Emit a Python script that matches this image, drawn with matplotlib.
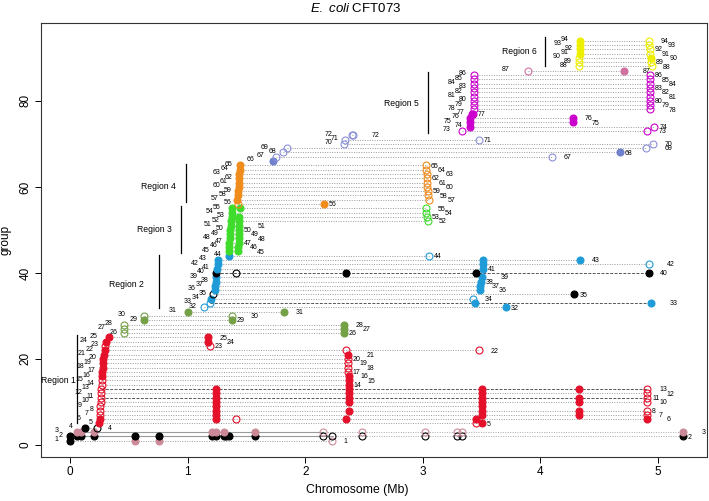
import matplotlib
matplotlib.use('Agg')
import matplotlib.pyplot as plt

plt.rcParams['font.family'] = ['Liberation Sans', 'DejaVu Sans']
plt.rcParams['mathtext.fontset'] = 'custom'
plt.rcParams['mathtext.rm'] = 'Liberation Sans'
plt.rcParams['mathtext.it'] = 'Liberation Sans:italic'

# ---------------- data ----------------
COLOURS = {
    'black': '#000000', 'pink': '#cc8a98', 'red': '#e5102a', 'olive': '#74a046',
    'blue': '#1f9bd7', 'lime': '#3fdc2c', 'orange': '#f08c1c', 'peri': '#8a90d6',
    'peri_dk': '#6f80cc', 'mag': '#cc00cc', 'rose': '#d070a0', 'yellow': '#eeee00',
}

# (group, position in Mb, colour, filled)
base_points = [
    (1, 0.00, 'black', 1), (1, 0.55, 'pink', 1), (1, 0.755, 'pink', 1), (1, 2.23, 'pink', 0),
    (2, 0.00, 'black', 1), (2, 0.061, 'black', 1), (2, 0.089, 'black', 1), (2, 0.20, 'black', 1),
    (2, 0.55, 'black', 1), (2, 0.755, 'black', 1), (2, 1.21, 'black', 1), (2, 1.24, 'black', 1),
    (2, 1.31, 'black', 1), (2, 1.33, 'black', 1), (2, 1.355, 'black', 1), (2, 1.575, 'black', 1),
    (2, 2.15, 'black', 0), (2, 2.23, 'black', 0), (2, 2.48, 'black', 0), (2, 3.02, 'black', 0),
    (2, 3.29, 'black', 0), (2, 3.33, 'black', 0), (2, 5.21, 'black', 1),
    (3, 0.061, 'pink', 1), (3, 0.089, 'pink', 1), (3, 0.20, 'pink', 1), (3, 1.21, 'pink', 1),
    (3, 1.24, 'pink', 1), (3, 1.31, 'pink', 1), (3, 1.575, 'pink', 1), (3, 2.15, 'pink', 0),
    (3, 2.48, 'pink', 0), (3, 3.02, 'pink', 0), (3, 3.29, 'pink', 0), (3, 3.33, 'pink', 0),
    (3, 5.21, 'pink', 1),
    (4, 0.123, 'black', 1), (4, 0.225, 'black', 0),
]

region1_points = [
    (5, 0.250, 'red', 1), (5, 3.45, 'red', 0), (5, 3.50, 'red', 1),
    (6, 0.252, 'red', 1), (6, 1.24, 'red', 1), (6, 1.41, 'red', 0), (6, 2.35, 'red', 1),
    (6, 3.45, 'red', 1), (6, 4.91, 'red', 1),
    (7, 0.255, 'red', 0), (7, 1.24, 'red', 1), (7, 3.50, 'red', 1), (7, 4.33, 'red', 1), (7, 4.91, 'red', 0),
    (8, 0.256, 'red', 0), (8, 1.24, 'red', 1), (8, 2.37, 'red', 1), (8, 3.50, 'red', 1),
    (8, 4.33, 'red', 1), (8, 4.91, 'red', 0),
    (9, 0.258, 'red', 0), (9, 1.24, 'red', 1), (9, 3.50, 'red', 1),
    (10, 0.260, 'red', 0), (10, 1.24, 'red', 1), (10, 2.37, 'red', 1), (10, 3.50, 'red', 1),
    (10, 4.33, 'red', 1), (10, 4.91, 'red', 0),
    (11, 0.262, 'red', 0), (11, 1.24, 'red', 1), (11, 2.37, 'red', 1), (11, 3.50, 'red', 1),
    (11, 4.33, 'red', 1), (11, 4.91, 'red', 0),
    (12, 0.264, 'red', 0), (12, 1.24, 'red', 1), (12, 2.37, 'red', 1), (12, 3.50, 'red', 1),
    (12, 4.91, 'red', 0),
    (13, 0.266, 'red', 0), (13, 1.24, 'red', 1), (13, 2.37, 'red', 1), (13, 3.50, 'red', 1),
    (13, 4.33, 'red', 1), (13, 4.91, 'red', 0),
    (14, 0.268, 'red', 0), (14, 2.37, 'red', 1),
    (15, 0.270, 'red', 0), (15, 2.37, 'red', 1),
    (16, 0.273, 'red', 1), (16, 2.37, 'red', 1),
    (17, 0.276, 'red', 1), (17, 2.365, 'red', 0),
    (18, 0.278, 'red', 1), (18, 2.365, 'red', 0),
    (19, 0.280, 'red', 1), (19, 2.36, 'red', 0),
    (20, 0.283, 'red', 1), (20, 2.36, 'red', 0),
    (21, 0.287, 'red', 1), (21, 2.36, 'red', 1),
    (22, 0.295, 'red', 1), (22, 2.35, 'red', 0), (22, 3.48, 'red', 0),
    (23, 0.300, 'red', 0), (23, 1.19, 'red', 0),
    (24, 0.310, 'red', 1), (24, 1.17, 'red', 1),
    (25, 0.330, 'red', 1), (25, 1.17, 'red', 1),
]

olive_points = [
    (26, 0.463, 'olive', 0), (26, 2.33, 'olive', 1),
    (27, 0.463, 'olive', 0), (27, 2.33, 'olive', 1),
    (28, 0.463, 'olive', 0), (28, 2.33, 'olive', 1),
    (29, 0.63, 'olive', 1), (29, 1.38, 'olive', 1),
    (30, 0.63, 'olive', 0), (30, 1.38, 'olive', 0),
    (31, 1.00, 'olive', 1), (31, 1.82, 'olive', 1),
]

region2_points = [
    (32, 1.14, 'blue', 0), (32, 3.71, 'blue', 1),
    (33, 1.19, 'blue', 0), (33, 3.44, 'blue', 1), (33, 4.94, 'blue', 1),
    (34, 1.20, 'blue', 1), (34, 3.43, 'blue', 0),
    (35, 1.22, 'black', 0), (35, 4.29, 'black', 1),
    (36, 1.230, 'blue', 1), (36, 3.49, 'blue', 1),
    (37, 1.235, 'blue', 1), (37, 3.49, 'blue', 1),
    (38, 1.240, 'blue', 1), (38, 3.495, 'blue', 1),
    (39, 1.245, 'blue', 1), (39, 3.50, 'blue', 1),
    (40, 1.24, 'black', 1), (40, 1.41, 'black', 0), (40, 2.35, 'black', 1),
    (40, 3.45, 'black', 1), (40, 4.92, 'black', 1),
    (41, 1.250, 'blue', 1), (41, 3.51, 'blue', 1),
    (42, 1.255, 'blue', 1), (42, 3.51, 'blue', 1), (42, 4.92, 'blue', 0),
    (43, 1.260, 'blue', 1), (43, 3.51, 'blue', 1), (43, 4.34, 'blue', 1),
    (44, 1.35, 'blue', 1), (44, 3.05, 'blue', 0),
]

region3_points = [
    (45, 1.350, 'lime', 1), (45, 1.430, 'lime', 1),
    (46, 1.352, 'lime', 1), (46, 1.432, 'lime', 1),
    (47, 1.355, 'lime', 1), (47, 1.434, 'lime', 1),
    (48, 1.358, 'lime', 1), (48, 1.435, 'lime', 1),
    (49, 1.360, 'lime', 1), (49, 1.436, 'lime', 1),
    (50, 1.363, 'lime', 1), (50, 1.437, 'lime', 1),
    (51, 1.366, 'lime', 1), (51, 1.438, 'lime', 1),
    (52, 1.370, 'lime', 1), (52, 1.440, 'lime', 1), (52, 3.04, 'lime', 0),
    (53, 1.374, 'lime', 1), (53, 1.440, 'lime', 1), (53, 3.035, 'lime', 0),
    (54, 1.378, 'lime', 1), (54, 3.03, 'lime', 0),
    (55, 1.380, 'lime', 1), (55, 1.445, 'lime', 1), (55, 3.03, 'lime', 0),
]

region4_points = [
    (56, 1.430, 'orange', 0), (56, 2.16, 'orange', 1),
    (57, 1.420, 'orange', 1), (57, 3.050, 'orange', 0),
    (58, 1.428, 'orange', 1), (58, 3.045, 'orange', 0),
    (59, 1.432, 'orange', 1), (59, 3.040, 'orange', 0),
    (60, 1.435, 'orange', 1), (60, 3.038, 'orange', 0),
    (61, 1.437, 'orange', 1), (61, 3.036, 'orange', 0),
    (62, 1.439, 'orange', 1), (62, 3.034, 'orange', 0),
    (63, 1.440, 'orange', 1), (63, 3.032, 'orange', 0),
    (64, 1.442, 'orange', 1), (64, 3.030, 'orange', 0),
    (65, 1.443, 'orange', 1), (65, 3.030, 'orange', 0),
]

peri_points = [
    (66, 1.725, 'peri_dk', 1),
    (67, 1.753, 'peri', 0), (67, 4.10, 'peri', 0),
    (68, 1.810, 'peri', 0), (68, 4.68, 'peri_dk', 1),
    (69, 1.847, 'peri', 0), (69, 4.90, 'peri', 0),
    (70, 2.330, 'peri', 0), (70, 4.96, 'peri', 0),
    (71, 2.340, 'peri', 0), (71, 3.48, 'peri', 0),
    (72, 2.395, 'peri', 0), (72, 2.405, 'peri', 0),
]

region5_points = [
    (73, 3.33, 'mag', 0), (73, 4.91, 'mag', 0),
    (74, 3.40, 'mag', 1), (74, 4.97, 'mag', 0),
    (75, 3.40, 'mag', 1), (75, 4.28, 'mag', 1),
    (76, 3.405, 'mag', 1), (76, 4.28, 'mag', 1),
    (77, 3.415, 'mag', 1), (77, 3.425, 'mag', 1),
    (78, 3.434, 'mag', 0), (78, 4.934, 'mag', 0),
    (79, 3.434, 'mag', 0), (79, 4.934, 'mag', 0),
    (80, 3.434, 'mag', 0), (80, 4.934, 'mag', 0),
    (81, 3.434, 'mag', 0), (81, 4.934, 'mag', 0),
    (82, 3.434, 'mag', 0), (82, 4.934, 'mag', 0),
    (83, 3.434, 'mag', 0), (83, 4.934, 'mag', 0),
    (84, 3.434, 'mag', 0), (84, 4.934, 'mag', 0),
    (85, 3.434, 'mag', 0), (85, 4.934, 'mag', 0),
    (86, 3.434, 'mag', 0), (86, 4.934, 'mag', 0),
    (87, 3.896, 'rose', 0), (87, 4.707, 'rose', 1),
]

region6_points = [
    (88, 4.327, 'yellow', 0), (88, 4.945, 'yellow', 0),
    (89, 4.329, 'yellow', 0), (89, 4.942, 'yellow', 0),
    (90, 4.331, 'yellow', 0), (90, 4.938, 'yellow', 1),
    (91, 4.333, 'yellow', 1), (91, 4.934, 'yellow', 0),
    (92, 4.335, 'yellow', 1), (92, 4.930, 'yellow', 0),
    (93, 4.337, 'yellow', 1), (93, 4.926, 'yellow', 0),
    (94, 4.338, 'yellow', 1), (94, 4.922, 'yellow', 0),
]

# region annotations: name, text x, text y, bar x, bar y0, bar y1
region_names = ['Region 1', 'Region 2', 'Region 3', 'Region 4', 'Region 5', 'Region 6']
region_text_x = [-0.10, 0.48, 0.72, 0.75, 2.82, 3.82]
region_text_y = [15.0, 37.2, 50.2, 60.2, 79.5, 91.5]
region_bar_x = [0.058, 0.755, 0.94, 0.987, 3.04, 4.04]
region_bar_y0 = [5.0, 31.9, 44.7, 56.5, 72.6, 88.1]
region_bar_y1 = [25.6, 44.2, 55.6, 65.3, 86.6, 94.8]

dark_line_groups = [11, 13, 33, 40]
solid_line_groups = [2, 3]
no_right_label = [9]

x_ticks = [0, 1, 2, 3, 4, 5]
y_ticks = [0, 20, 40, 60, 80]

# ---------------- plot ----------------
W, H = 709, 501
fig = plt.figure(figsize=(W / 100, H / 100), dpi=100)
ax = fig.add_axes([41 / W, 1 - 457 / H, (707 - 41) / W, (457 - 23) / H])
ax.set_xlim(-0.247, 5.417)
ax.set_ylim(-2.8, 98.1)

all_points = (base_points + region1_points + olive_points + region2_points + region3_points
              + region4_points + peri_points + region5_points + region6_points)
groups = sorted(set(p[0] for p in all_points))

small_dx = [2.9, 7.9, 13.0]
left_dx = [2.5, 5.8, 11.0]
kmap = {2: 0, 1: 1, 0: 2}

for g in groups:
    pts = sorted([p for p in all_points if p[0] == g], key=lambda p: p[1])
    xs = [p[1] for p in pts]
    if len(xs) > 1:
        if g in dark_line_groups:
            ax.plot([xs[0], xs[-1]], [g, g], color='#555555', lw=0.7,
                    ls=(0, (3, 1.5)), zorder=1)
        elif g in solid_line_groups:
            ax.plot([xs[0], xs[-1]], [g, g], color='#aaaaaa', lw=0.7, ls=(0, (1, 1.5)), zorder=1)
            mid = [x for x in xs if x <= 2.25]
            ax.plot([mid[0], mid[-1]], [g, g], color='#9a9a9a', lw=0.8, ls='-', zorder=1)
        else:
            ax.plot([xs[0], xs[-1]], [g, g], color='#9a9a9a', lw=0.7,
                    ls=(0, (1, 1.5)), zorder=1)
    for (_, x, c, f) in pts:
        col = COLOURS[c]
        ax.plot(x, g, 'o', ms=5.0, mec=col, mfc=col if f else 'none',
                mew=0.8, zorder=3)
    k = kmap[g % 3]
    ax.annotate(str(g), (xs[0], g), xytext=(-left_dx[k] - 2.5, 0.8),
                textcoords='offset points', ha='right', va='center', fontsize=5, zorder=4)
    if len(xs) > 1 and g not in no_right_label:
        ax.annotate(str(g), (xs[-1], g), xytext=(small_dx[k] + 0.5, -0.5),
                    textcoords='offset points', ha='left', va='center', fontsize=5, zorder=4)

for name, tx, ty, bx, by0, by1 in zip(region_names, region_text_x, region_text_y,
                                      region_bar_x, region_bar_y0, region_bar_y1):
    ax.text(tx, ty, name, ha='center', va='center', fontsize=6.2)
    ax.plot([bx, bx], [by0, by1], color='black', lw=0.9)

ax.set_xticks(x_ticks)
ax.set_yticks(y_ticks)
ax.tick_params(axis='both', length=4.3, width=0.7, labelsize=8.5, pad=2.5)
for lab in ax.get_yticklabels():
    lab.set_rotation(90)
    lab.set_va('center')
for s in ax.spines.values():
    s.set_linewidth(0.8)
    s.set_color('#333333')

ax.set_ylabel('group', fontsize=8.5, labelpad=6)
fig.text(357 / W, 1 - 490 / H, 'Chromosome (Mb)', ha='center', va='center', fontsize=8.8)
fig.text(356 / W, 1 - 8 / H, r'$\mathit{E.\ coli}$ CFT073', ha='center', va='center',
         fontsize=9.5)

fig.savefig('out.png', dpi=100)
